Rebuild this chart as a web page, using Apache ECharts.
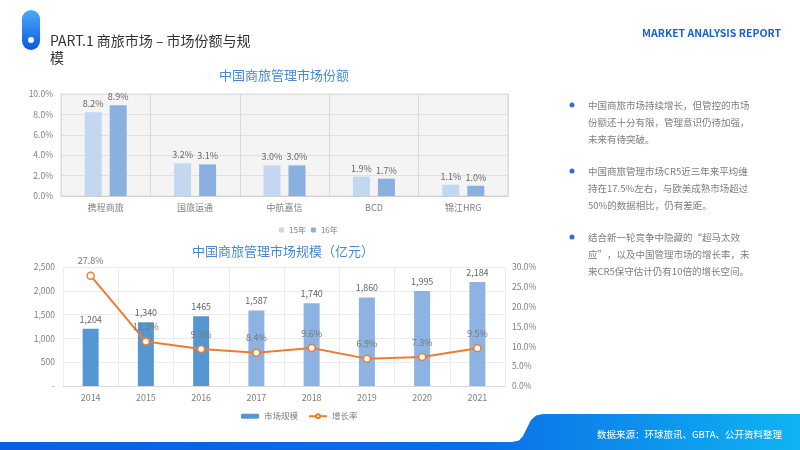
<!DOCTYPE html>
<html>
<head>
<meta charset="utf-8">
<script src="https://cdn.jsdelivr.net/npm/echarts@6/dist/echarts.min.js"></script>
<style>
  html, body { margin: 0; padding: 0; background: #fff; }
  #main { width: 800px; height: 450px; }
</style>
</head>
<body>
<div id="main"></div>
<script>
// 市场份额 (%)
var companies = ['携程商旅', '国旅运通', '中航嘉信', 'BCD', '锦江HRG'];
var share15 = [8.2, 3.2, 3.0, 1.9, 1.1];
var share16 = [8.9, 3.1, 3.0, 1.7, 1.0];

// 市场规模 (亿元) + 增长率 (%)
var years = ['2014', '2015', '2016', '2017', '2018', '2019', '2020', '2021'];
var sizeValues = [1204, 1340, 1465, 1587, 1740, 1860, 1995, 2184];
var sizeLabels = ['1,204', '1,340', '1465', '1,587', '1,740', '1,860', '1,995', '2,184'];
var growthRate = [27.8, 11.2, 9.3, 8.4, 9.6, 6.9, 7.3, 9.5];

var notes = [
  ['中国商旅市场持续增长，但管控的市场', '份额还十分有限，管理意识仍待加强，', '未来有待突破。'],
  ['中国商旅管理市场CR5近三年来平均维', '持在17.5%左右，与欧美成熟市场超过', '50%的数据相比，仍有差距。'],
  ['结合新一轮竞争中隐藏的“超马太效', '应”，以及中国管理市场的增长率，未', '来CR5保守估计仍有10倍的增长空间。']
];

var FONT = '"Noto Sans CJK SC", "Noto Sans", sans-serif';
var gray = '#808080';

function pct(v) { return Number(v).toFixed(1) + '%'; }
function grad(x2, y2, stops) {
  return { type: 'linear', x: 0, y: 0, x2: x2, y2: y2, colorStops: stops };
}

// 右侧文字 + 页面装饰
var graphics = [
  { type: 'rect', shape: { x: 22, y: 10, width: 18, height: 40, r: 9 },
    style: { fill: grad(0, 1, [{ offset: 0, color: '#4ea8f7' }, { offset: 1, color: '#0a5ae0' }]) } },
  { type: 'circle', shape: { cx: 31, cy: 40, r: 3 }, style: { fill: '#fff' } },
  { type: 'text', x: 50, y: 41, style: { text: 'PART.1 商旅市场 – 市场份额与规', font: '14px ' + FONT, fill: '#333', verticalAlign: 'middle' } },
  { type: 'text', x: 50, y: 58, style: { text: '模', font: '14px ' + FONT, fill: '#333', verticalAlign: 'middle' } },
  { type: 'text', x: 781, y: 33, style: { text: 'MARKET ANALYSIS REPORT', font: 'bold 10.5px ' + FONT, fill: '#1a5fd0', align: 'right', verticalAlign: 'middle' } },
  { type: 'text', x: 284, y: 75, style: { text: '中国商旅管理市场份额', font: '13px ' + FONT, fill: '#4a89d2', align: 'center', verticalAlign: 'middle' } },
  { type: 'text', x: 283, y: 251, style: { text: '中国商旅管理市场规模（亿元）', font: '13px ' + FONT, fill: '#4a89d2', align: 'center', verticalAlign: 'middle' } },
  { type: 'polygon',
    shape: { points: [[0, 442], [512, 442], [519, 440.5], [523, 436], [527, 428], [531, 420], [536, 415.5], [543, 414], [800, 414], [800, 450], [0, 450]] },
    style: { fill: grad(1, 0, [{ offset: 0, color: '#0a5fe3' }, { offset: 0.6, color: '#0b6ee8' }, { offset: 1, color: '#0fb4f2' }]) } },
  { type: 'text', x: 782, y: 434, style: { text: '数据来源：环球旅讯、GBTA、公开资料整理', font: '9.5px ' + FONT, fill: '#fff', align: 'right', verticalAlign: 'middle' } }
];

var noteTop = [105, 171, 237];
notes.forEach(function (lines, i) {
  graphics.push({ type: 'circle', shape: { cx: 572, cy: noteTop[i], r: 2.5 }, style: { fill: '#2f6fd6' } });
  lines.forEach(function (line, j) {
    graphics.push({ type: 'text', x: 588, y: noteTop[i] + j * 17.3,
      style: { text: line, font: '9.5px ' + FONT, fill: '#7f7f7f', verticalAlign: 'middle' } });
  });
});

var chart = echarts.init(document.getElementById('main'));
var option = {
  animation: false,
  textStyle: { fontFamily: FONT },
  legend: [
    { data: ['15年', '16年'], left: 274, top: 221, itemWidth: 5, itemHeight: 5, itemGap: 5,
      textStyle: { fontSize: 8, color: gray } },
    { data: [{ name: '市场规模', itemStyle: { color: '#5597d3' } }, '增长率'], left: 236, top: 407,
      itemWidth: 18, itemHeight: 5, itemGap: 10,
      textStyle: { fontSize: 8.5, color: gray } }
  ],
  grid: [
    { left: 61, right: 292, top: 94, height: 102, show: true, backgroundColor: '#f4f4f4', borderColor: '#dcdcdc', borderWidth: 1 },
    { left: 63, right: 295, top: 267, height: 119 }
  ],
  xAxis: [
    { type: 'category', gridIndex: 0, data: companies,
      axisLine: { lineStyle: { color: '#d0d0d0' } }, axisTick: { show: false },
      splitLine: { show: true, lineStyle: { color: '#d9d9d9' } },
      axisLabel: { fontSize: 9, color: gray, margin: 7 } },
    { type: 'category', gridIndex: 1, data: years,
      axisLine: { lineStyle: { color: '#d9d9d9' } }, axisTick: { show: false },
      splitLine: { show: true, lineStyle: { color: '#ececec' } },
      axisLabel: { fontSize: 9, color: gray, margin: 7 } }
  ],
  yAxis: [
    { type: 'value', gridIndex: 0, min: 0, max: 10, interval: 2,
      splitLine: { lineStyle: { color: '#e0e0e0' } },
      axisLabel: { fontSize: 8.5, color: gray, margin: 8, formatter: pct } },
    { type: 'value', gridIndex: 1, min: 0, max: 2500, interval: 500,
      splitLine: { lineStyle: { color: '#ececec' } },
      axisLabel: { fontSize: 8.5, color: gray, margin: 8,
        formatter: function (v) { return v === 0 ? '-' : v.toLocaleString('en-US'); } } },
    { type: 'value', gridIndex: 1, min: 0, max: 30, interval: 5,
      splitLine: { show: false },
      axisLabel: { fontSize: 8.5, color: gray, margin: 7, formatter: pct } }
  ],
  series: [
    { name: '15年', type: 'bar', xAxisIndex: 0, yAxisIndex: 0, data: share15,
      barWidth: 17, barGap: '47%', itemStyle: { color: '#c3d7f0' },
      label: { show: true, position: 'top', distance: 4, fontSize: 9, color: '#666', formatter: function (p) { return pct(p.value); } } },
    { name: '16年', type: 'bar', xAxisIndex: 0, yAxisIndex: 0, data: share16,
      barWidth: 17, itemStyle: { color: '#8ab0e0' },
      label: { show: true, position: 'top', distance: 4, fontSize: 9, color: '#666', formatter: function (p) { return pct(p.value); } } },
    { name: '市场规模', type: 'bar', xAxisIndex: 1, yAxisIndex: 1, data: sizeValues,
      barWidth: 16,
      itemStyle: { color: function (p) { return p.dataIndex < 3 ? '#5597d3' : '#8db3e2'; } },
      label: { show: true, position: 'top', distance: 5, fontSize: 9, color: '#666',
        formatter: function (p) { return sizeLabels[p.dataIndex]; } } },
    { name: '增长率', type: 'line', xAxisIndex: 1, yAxisIndex: 2, data: growthRate,
      symbol: 'circle', symbolSize: 7,
      lineStyle: { color: '#ed7d31', width: 2 },
      itemStyle: { color: '#fff', borderColor: '#ed7d31', borderWidth: 1.5 },
      label: { show: true, position: 'top', distance: 6, fontSize: 9, color: '#777', formatter: function (p) { return pct(p.value); } } }
  ],
  graphic: graphics
};
chart.setOption(option);
</script>
</body>
</html>
